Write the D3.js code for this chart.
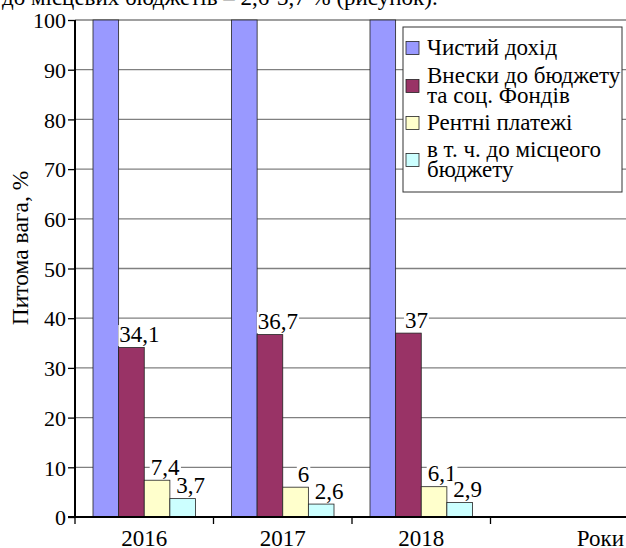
<!DOCTYPE html>
<html>
<head>
<meta charset="utf-8">
<script src="https://cdn.jsdelivr.net/npm/d3@7"></script>
</head>
<body style="margin:0;background:#fff">
<div class="js-vis"></div>
<script>
const categories = ["2016", "2017", "2018", ""]
const seriesNames = ["Чистий дохід", "Внески до бюджету\nта соц. Фондів", "Рентні платежі", "в т. ч. до місцеого\nбюджету"]
const seriesColors = ["#9999ff", "#993366", "#ffffcc", "#ccffff"]
const netIncome = [100, 100, 100]
const budgetPayments = [34.1, 36.7, 37]
const rentPayments = [7.4, 6, 6.1]
const localBudget = [3.7, 2.6, 2.9]
const yTicks = [0, 10, 20, 30, 40, 50, 60, 70, 80, 90, 100]
const showLabel = [false, true, true, true]

const series = [netIncome, budgetPayments, rentPayments, localBudget]
const FONT = "Liberation Serif, Tinos, Times New Roman, serif"

const ewidth = 626, eheight = 548
const margin = { top: 20, left: 75 }
const plotBottom = 517

const svg = d3.select(".js-vis").append("svg")
  .attr("width", ewidth)
  .attr("height", eheight)
  .attr("font-family", FONT)
  .style("display", "block")

// clipped sentence from the page above the chart
svg.append("text")
  .attr("x", 2).attr("y", 5)
  .attr("font-size", 23)
  .text("до місцевих бюджетів – 2,6-3,7 % (рисунок).")

const x = d3.scaleBand()
  .domain(categories)
  .range([margin.left, margin.left + 4 * 138.5])
  .paddingInner(0).paddingOuter(0)

const xs = d3.scaleBand()
  .domain(d3.range(series.length))
  .range([18, x.bandwidth() - 18])

const y = d3.scaleLinear()
  .domain([0, 100])
  .range([plotBottom, margin.top])

// gridlines
svg.append("g")
  .selectAll("line")
  .data(yTicks)
  .enter().append("line")
  .attr("x1", margin.left).attr("x2", ewidth)
  .attr("y1", d => y(d)).attr("y2", d => y(d))
  .attr("stroke", "#808080")
  .attr("stroke-width", 1.3)

// y axis
const yax = d3.axisLeft(y).tickValues(yTicks).tickSize(7).tickPadding(2)
const gy = svg.append("g")
  .attr("transform", "translate(" + margin.left + ",0)")
  .call(yax)
  .attr("font-family", FONT)
  .attr("font-size", 22)
gy.select(".domain").remove()
gy.selectAll("line").attr("stroke", "#000").attr("stroke-width", 1.3)
gy.selectAll("text")
  .attr("fill", "#000")
  .attr("dy", "0.35em")

// bars
const groups = svg.append("g")
  .selectAll("g")
  .data(categories.slice(0, 3))
  .enter().append("g")
  .attr("transform", d => "translate(" + x(d) + ",0)")

groups.selectAll("rect")
  .data((d, i) => series.map((s, k) => ({ k: k, v: s[i] })))
  .enter().append("rect")
  .attr("x", d => xs(d.k))
  .attr("width", xs.bandwidth())
  .attr("y", d => y(d.v))
  .attr("height", d => plotBottom - y(d.v))
  .attr("fill", d => seriesColors[d.k])
  .attr("stroke", "#222")
  .attr("stroke-width", 0.8)

// axis lines
svg.append("line")
  .attr("x1", margin.left).attr("x2", margin.left)
  .attr("y1", margin.top).attr("y2", plotBottom)
  .attr("stroke", "#000").attr("stroke-width", 2)

svg.append("line")
  .attr("x1", margin.left - 7).attr("x2", ewidth)
  .attr("y1", plotBottom).attr("y2", plotBottom)
  .attr("stroke", "#000").attr("stroke-width", 2)

// x ticks at band boundaries
svg.append("g")
  .selectAll("line")
  .data(categories)
  .enter().append("line")
  .attr("x1", d => x(d)).attr("x2", d => x(d))
  .attr("y1", plotBottom).attr("y2", plotBottom + 7)
  .attr("stroke", "#000").attr("stroke-width", 1.3)

svg.append("g")
  .selectAll("text")
  .data(categories)
  .enter().append("text")
  .attr("x", d => x(d) + x.bandwidth() / 2)
  .attr("y", 546)
  .attr("text-anchor", "middle")
  .attr("font-size", 23)
  .text(d => d)

svg.append("text")
  .attr("x", 624).attr("y", 546)
  .attr("text-anchor", "end")
  .attr("font-size", 23)
  .text("Роки")

svg.append("text")
  .attr("transform", "translate(28,248) rotate(-90)")
  .attr("text-anchor", "middle")
  .attr("font-size", 23.5)
  .text("Питома вага, %")

// value labels with white backgrounds
const fmt = v => String(v).replace(".", ",")
const labels = svg.append("g")
categories.slice(0, 3).forEach((c, i) => {
  series.forEach((s, k) => {
    if (!showLabel[k]) return
    const cx = x(c) + xs(k) + xs.bandwidth() / 2 + 8
    const g = labels.append("g")
    const bg = g.append("rect").attr("fill", "#fff")
    const t = g.append("text")
      .attr("x", cx)
      .attr("y", y(s[i]) - 5.5)
      .attr("text-anchor", "middle")
      .attr("font-size", 23)
      .text(fmt(s[i]))
    const bb = t.node().getBBox()
    bg.attr("x", bb.x - 1).attr("y", bb.y + 3)
      .attr("width", bb.width + 2).attr("height", bb.height - 4)
  })
})

// legend
const legend = svg.append("g")
legend.append("rect")
  .attr("x", 403).attr("y", 27)
  .attr("width", 219).attr("height", 165)
  .attr("fill", "#fff")
  .attr("stroke", "#333").attr("stroke-width", 1)

const legendBase = [55, 83, 130, 157]
const lineH = 20
seriesNames.forEach((name, k) => {
  const lines = name.split("\n")
  const b = legendBase[k]
  const mid = b - 7 + (lines.length - 1) * lineH / 2
  legend.append("rect")
    .attr("x", 406).attr("y", mid - 6.5)
    .attr("width", 13).attr("height", 13)
    .attr("fill", seriesColors[k])
    .attr("stroke", "#222").attr("stroke-width", 0.8)
  lines.forEach((ln, j) => {
    legend.append("text")
      .attr("x", 427).attr("y", b + j * lineH)
      .attr("font-size", 23)
      .text(ln)
  })
})
</script>
</body>
</html>
